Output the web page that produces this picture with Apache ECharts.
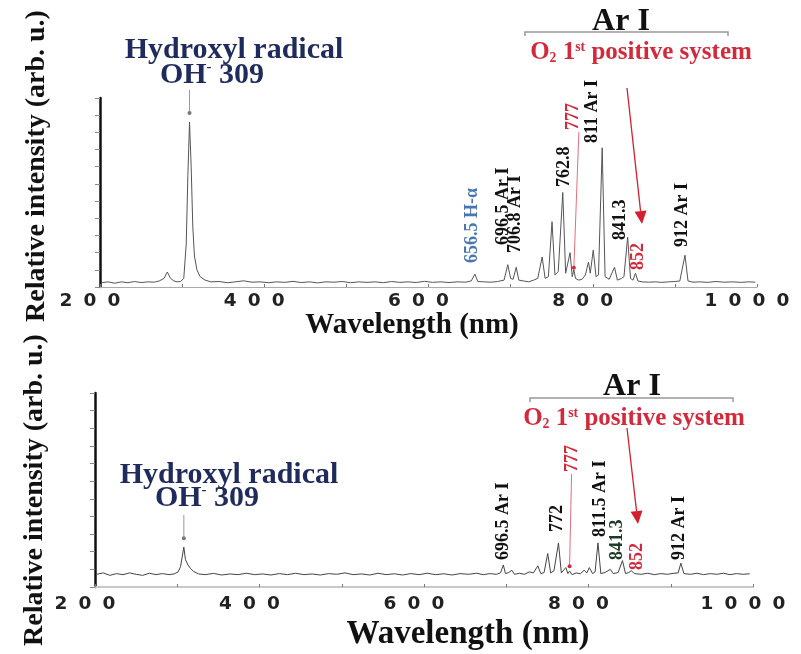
<!DOCTYPE html>
<html>
<head>
<meta charset="utf-8">
<script src="https://cdn.jsdelivr.net/npm/echarts@6/dist/echarts.min.js"></script>
<style>html,body{margin:0;background:#fff}#c{width:801px;height:654px}</style>
</head>
<body>
<div id="c"></div>
<script>
// wavelength ticks (nm)
const xTicks = [200, 400, 600, 800, 1000];

// upper spectrum [nm, intensity]
const topSpec = [[202,0.25],[210,0.3],[218,0.22],[226,0.3],[234,0.25],[242,0.32],[250,0.26],[258,0.3],[266,0.28],[272,0.35],[278,0.5],[282,0.87],[286,0.5],[290,0.35],[294,0.3],[298,0.32],[302,0.5],[305,2.5],[307,6.5],[309,9.6],[311,7.0],[313,3.5],[315,1.8],[318,1.0],[322,0.6],[328,0.4],[335,0.3],[345,0.32],[355,0.25],[365,0.3],[375,0.36],[385,0.28],[395,0.3],[405,0.25],[415,0.3],[425,0.27],[435,0.33],[445,0.26],[455,0.3],[465,0.24],[475,0.3],[485,0.28],[495,0.32],[505,0.25],[515,0.3],[525,0.27],[535,0.3],[545,0.25],[555,0.32],[565,0.27],[575,0.3],[585,0.26],[595,0.33],[605,0.27],[615,0.3],[625,0.26],[635,0.3],[645,0.28],[652,0.35],[656.5,0.75],[660,0.32],[668,0.3],[676,0.28],[684,0.32],[692,0.4],[696.5,1.3],[700,0.5],[703,0.45],[706.8,1.15],[710,0.4],[716,0.35],[722,0.3],[728,0.4],[733,0.5],[738.4,1.75],[742,0.5],[746,0.6],[750.4,3.8],[754,0.7],[758,0.9],[763.5,5.5],[767,0.8],[769,0.9],[772.4,2.0],[775,0.6],[777,1.0],[779,0.5],[783,0.4],[787,0.45],[791,0.7],[794.8,1.45],[797,0.8],[800.6,2.15],[804,0.6],[807,0.7],[811.5,8.1],[815,0.6],[820,0.45],[826.5,1.15],[830,0.4],[835,0.5],[838,0.6],[842.5,2.9],[846,0.5],[849,0.4],[852,0.8],[855,0.35],[860,0.3],[868,0.28],[876,0.3],[884,0.27],[892,0.3],[900,0.32],[906,0.35],[912.3,1.85],[916,0.35],[922,0.28],[930,0.3],[940,0.27],[950,0.32],[960,0.28],[970,0.3],[980,0.27],[990,0.3],[998,0.28]];

// lower spectrum [nm, intensity]
const botSpec = [[202,0.72],[210,0.8],[218,0.66],[226,0.76],[234,0.7],[242,0.8],[250,0.72],[258,0.66],[266,0.78],[274,0.7],[282,0.76],[290,0.7],[296,0.74],[301,0.85],[304,1.15],[306,1.7],[308,2.26],[310,1.55],[313,1.25],[316,1.05],[320,0.88],[326,0.74],[334,0.7],[344,0.77],[354,0.68],[364,0.74],[374,0.7],[384,0.78],[394,0.7],[404,0.74],[414,0.68],[424,0.76],[434,0.7],[444,0.78],[454,0.7],[464,0.74],[474,0.68],[484,0.76],[494,0.72],[504,0.8],[514,0.7],[524,0.74],[534,0.68],[544,0.78],[554,0.7],[564,0.75],[574,0.68],[584,0.76],[594,0.7],[604,0.78],[614,0.7],[624,0.75],[634,0.68],[644,0.76],[654,0.72],[664,0.78],[672,0.7],[680,0.76],[688,0.72],[693,0.8],[696.5,1.25],[699,0.76],[703,0.82],[706.8,0.95],[710,0.72],[716,0.78],[722,0.72],[728,0.86],[733,0.8],[738.4,1.2],[742,0.76],[746,0.82],[750.4,1.9],[754,0.8],[758,0.92],[763.5,2.5],[767,0.8],[772.4,1.1],[775,0.76],[777,0.9],[780,0.7],[785,0.8],[790,0.75],[794.8,0.95],[798,0.8],[801,1.1],[805,0.76],[808,0.86],[811.5,2.5],[815,0.76],[820,0.82],[826.5,1.0],[830,0.76],[836,0.82],[841.3,1.5],[845,0.76],[849,0.82],[852,0.92],[856,0.76],[864,0.72],[872,0.78],[880,0.7],[888,0.76],[896,0.72],[904,0.78],[909,0.8],[912.3,1.35],[916,0.76],[924,0.72],[932,0.78],[940,0.7],[948,0.76],[956,0.72],[964,0.78],[972,0.7],[980,0.76],[988,0.72],[996,0.75]];

// peak tags: text and wavelength where the tag stands
const topTagText = ['656.5 H-α', '696.5 Ar I', '706.8 Ar I', '762.8', '777', '811 Ar I', '841.3', '852', '912 Ar I'];
const topTagNm = [653, 690.7, 705.3, 766, 776, 800, 833, 855, 908.6];
const botTagText = ['696.5 Ar I', '772', '777', '811.5 Ar I', '841.3', '852', '912 Ar I'];
const botTagNm = [696, 761.7, 780, 814, 834.6, 859, 911];

// layout of tags (px bottom edge, colour)
const topTagBottom = [263, 245, 253, 187, 130, 143, 240, 270, 247];
const topTagColor = ['#4a76b0', '#111', '#111', '#111', '#d22a3c', '#111', '#111', '#d22a3c', '#111'];
const botTagBottom = [560, 532, 472, 537, 560, 570, 560];
const botTagColor = ['#111', '#111', '#d22a3c', '#111', '#1d3a22', '#d22a3c', '#111'];

const serif = 'Liberation Serif';
const spaced = v => String(v).split('').join('\u2002\u200a');

function xAx(grid, lineW, lineC) {
	return {
		type: 'value', gridIndex: grid, min: 200, max: 1000, interval: 100,
		axisLine: {show: true, lineStyle: {color: lineC, width: lineW}},
		axisTick: {show: true, length: 3, inside: true, lineStyle: {color: '#777'}},
		splitLine: {show: false},
		axisLabel: {
			margin: grid ? 8 : 5, padding: [0, 20, 0, 0],
			fontFamily: 'DejaVu Sans', fontWeight: 'bold', fontSize: 18.5, color: '#222',
			formatter: v => xTicks.indexOf(v) >= 0 ? spaced(v) : ''
		}
	};
}
function yAx(grid) {
	return {
		type: 'value', gridIndex: grid, min: 0, max: 11, interval: 1,
		axisLine: {show: true, lineStyle: {color: '#111', width: 2.5}},
		axisTick: {show: true, length: 5, lineStyle: {color: '#888'}},
		axisLabel: {show: false},
		splitLine: {show: false}
	};
}

let chart = echarts.init(document.getElementById('c'));
chart.setOption({
	animation: false,
	backgroundColor: '#fff',
	grid: [
		{left: 100, top: 98, width: 657, height: 189},
		{left: 95, top: 393, width: 658, height: 194}
	],
	xAxis: [xAx(0, 1, '#aaa'), xAx(1, 2, '#c8c8c8')],
	yAxis: [yAx(0), yAx(1)],
	series: [
		{type: 'line', xAxisIndex: 0, yAxisIndex: 0, data: topSpec, showSymbol: false,
			lineStyle: {color: '#555', width: 1}},
		{type: 'line', xAxisIndex: 1, yAxisIndex: 1, data: botSpec, showSymbol: false,
			lineStyle: {color: '#444', width: 1}}
	]
});

// helpers for annotation
const px = (g, nm, v) => chart.convertToPixel({xAxisIndex: g, yAxisIndex: g}, [nm, v]);
function txt(x, y, text, size, color, rot, align) {
	return {type: 'text', x: x, y: y, rotation: rot || 0, silent: true,
		style: {text: text, fill: color, font: 'bold ' + size + 'px "' + serif + '"',
			align: align || 'center', verticalAlign: 'middle'}};
}
function line(pts, color, w) {
	return {type: 'polyline', silent: true, shape: {points: pts},
		style: {stroke: color, lineWidth: w, fill: null}};
}
function arrow(x1, y1, x2, y2, color) {
	let dx = x2 - x1, dy = y2 - y1, l = Math.sqrt(dx * dx + dy * dy);
	let ux = dx / l, uy = dy / l, bx = x2 - ux * 13, by = y2 - uy * 13;
	return [
		line([[x1, y1], [bx, by]], color, 1.3),
		{type: 'polygon', silent: true,
			shape: {points: [[x2, y2], [bx - uy * 6, by + ux * 6], [bx + uy * 6, by - ux * 6]]},
			style: {fill: color}}
	];
}
function o2(x, y, size) {
	return {type: 'text', x: x, y: y, silent: true, style: {
		text: '{a|O}{s|2}{a| 1}{p|st}{a| positive system}',
		align: 'center', verticalAlign: 'middle',
		rich: {
			a: {fontFamily: serif, fontWeight: 'bold', fontSize: size, fill: '#d22a3c', verticalAlign: 'middle'},
			s: {fontFamily: serif, fontWeight: 'bold', fontSize: size * 0.55, fill: '#d22a3c', verticalAlign: 'bottom'},
			p: {fontFamily: serif, fontWeight: 'bold', fontSize: size * 0.55, fill: '#d22a3c', verticalAlign: 'top'}
		}}};
}
function oh(x, y, size) {
	return {type: 'text', x: x, y: y, silent: true, style: {
		text: '{a|OH}{p|-}{a| 309}', align: 'center', verticalAlign: 'middle',
		rich: {
			a: {fontFamily: serif, fontWeight: 'bold', fontSize: size, fill: '#1f2b5c', verticalAlign: 'middle'},
			p: {fontFamily: serif, fontWeight: 'bold', fontSize: size * 0.5, fill: '#1f2b5c', verticalAlign: 'top'}
		}}};
}

let gfx = [];
// axis titles
gfx.push(txt(37, 166, 'Relative intensity (arb. u.)', 28, '#111', Math.PI / 2));
gfx.push(txt(35, 490, 'Relative intensity (arb. u.)', 28, '#111', Math.PI / 2));
gfx.push(txt(412, 326, 'Wavelength (nm)', 29, '#111'));
gfx.push(txt(468, 634, 'Wavelength (nm)', 33, '#111'));

// rotated peak tags
[[0, topTagText, topTagNm, topTagBottom, topTagColor], [1, botTagText, botTagNm, botTagBottom, botTagColor]].forEach(s => {
	s[1].forEach((t, i) => {
		let x = chart.convertToPixel({xAxisIndex: s[0]}, s[2][i]);
		gfx.push(txt(x, s[3][i], t, 18, s[4][i], Math.PI / 2, 'left'));
	});
});

// hydroxyl annotations
let ohT = px(0, 309, 9.6), ohB = px(1, 308, 2.26);
gfx.push(txt(234, 50, 'Hydroxyl radical', 30, '#1f2b5c'));
gfx.push(oh(212, 75, 30));
gfx.push(line([[ohT[0], 90], [ohT[0], ohT[1] - 10]], '#999', 1));
gfx.push({type: 'circle', silent: true, shape: {cx: ohT[0], cy: ohT[1] - 9, r: 2}, style: {fill: '#777'}});
gfx.push(txt(229, 475, 'Hydroxyl radical', 30, '#1f2b5c'));
gfx.push(oh(207, 498, 30));
gfx.push(line([[ohB[0], 515], [ohB[0], ohB[1] - 9]], '#999', 1));
gfx.push({type: 'circle', silent: true, shape: {cx: ohB[0], cy: ohB[1] - 9, r: 2}, style: {fill: '#777'}});

// Ar I brackets, O2 system labels and arrows
gfx.push(txt(621, 22, 'Ar I', 32, '#111'));
gfx.push(line([[525, 36], [525, 32], [728, 32], [728, 36]], '#999', 1.5));
gfx.push(o2(641, 53, 25));
gfx = gfx.concat(arrow(627, 88, 642, 224, '#d4202e'));
gfx.push(txt(632, 387, 'Ar I', 32, '#111'));
gfx.push(line([[530, 402], [530, 398], [733, 398], [733, 402]], '#999', 1.5));
gfx.push(o2(634, 419, 25));
gfx = gfx.concat(arrow(627, 428, 638, 524, '#d4202e'));

// 777 lead lines
let r7T = px(0, 777, 1.0), r7B = px(1, 777, 0.9);
gfx.push(line([[r7T[0] + 5, 132], [r7T[0], r7T[1] - 2]], '#e07080', 1));
gfx.push({type: 'circle', silent: true, shape: {cx: r7T[0], cy: r7T[1] - 2, r: 2}, style: {fill: '#d22a3c'}});
gfx.push(line([[r7B[0] + 2, 474], [r7B[0], r7B[1] - 6]], '#e07080', 1));
gfx.push({type: 'circle', silent: true, shape: {cx: r7B[0], cy: r7B[1] - 5, r: 2}, style: {fill: '#d22a3c'}});

chart.setOption({graphic: gfx});
</script>
</body>
</html>
